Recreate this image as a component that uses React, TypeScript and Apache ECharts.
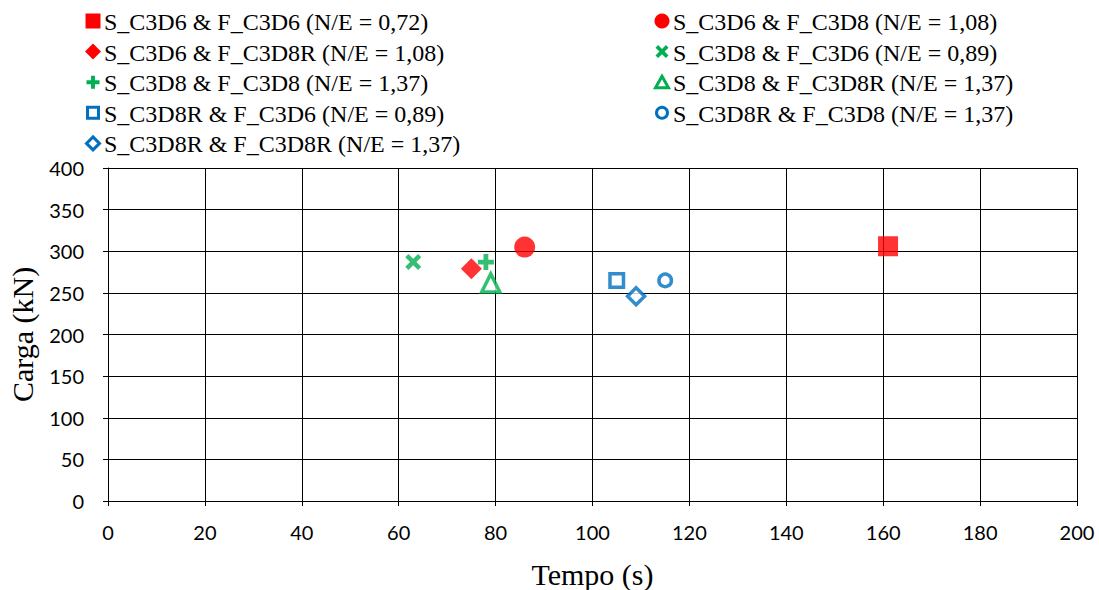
import React, { useEffect, useRef } from "react";
import * as echarts from "echarts";

const seriesNames = [
  "S_C3D6 & F_C3D6 (N/E = 0,72)",
  "S_C3D6 & F_C3D8 (N/E = 1,08)",
  "S_C3D6 & F_C3D8R (N/E = 1,08)",
  "S_C3D8 & F_C3D6 (N/E = 0,89)",
  "S_C3D8 & F_C3D8 (N/E = 1,37)",
  "S_C3D8 & F_C3D8R (N/E = 1,37)",
  "S_C3D8R & F_C3D6 (N/E = 0,89)",
  "S_C3D8R & F_C3D8 (N/E = 1,37)",
  "S_C3D8R & F_C3D8R (N/E = 1,37)",
];
const tempo = [161, 86, 75, 63, 78, 79, 105, 115, 109];
const carga = [306, 305, 279, 287, 287, 262, 265, 265, 246];

const xTicks = [0, 20, 40, 60, 80, 100, 120, 140, 160, 180, 200];
const yTicks = [0, 50, 100, 150, 200, 250, 300, 350, 400];

const RED = "#FF0000";
const GREEN = "#00B050";
const BLUE = "#0070C0";

// unit shapes (0..10 box) for X and plus
const X_PTS = [[2, 0], [5, 3], [8, 0], [10, 2], [7, 5], [10, 8], [8, 10], [5, 7], [2, 10], [0, 8], [3, 5], [0, 2]];
const PLUS_PTS = [[3.5, 0], [6.5, 0], [6.5, 3.5], [10, 3.5], [10, 6.5], [6.5, 6.5], [6.5, 10], [3.5, 10], [3.5, 6.5], [0, 6.5], [0, 3.5], [3.5, 3.5]];
const toPath = (pts: number[][]) =>
  "path://M" + pts.map((p) => p.join(",")).join(" L") + " Z";

type Mk = { kind: string; size: number; color: string; hollow: boolean };
const markers: Mk[] = [
  { kind: "rect", size: 20, color: RED, hollow: false },
  { kind: "circle", size: 21, color: RED, hollow: false },
  { kind: "diamond", size: 21, color: RED, hollow: false },
  { kind: "x", size: 16, color: GREEN, hollow: false },
  { kind: "plus", size: 16, color: GREEN, hollow: false },
  { kind: "triangle", size: 18, color: GREEN, hollow: true },
  { kind: "rect", size: 13.5, color: BLUE, hollow: true },
  { kind: "circle", size: 12.5, color: BLUE, hollow: true },
  { kind: "diamond", size: 17, color: BLUE, hollow: true },
];

const SERIF = "Liberation Serif";
const SANS = "Lato";

function legendIcon(m: Mk, cx: number, cy: number) {
  const fillStyle = { fill: m.color, stroke: null as any, lineWidth: 0 };
  const hollowStyle = { fill: "#ffffff", stroke: m.color, lineWidth: 3 };
  const st = m.hollow ? hollowStyle : fillStyle;
  const h = m.hollow ? 5.5 : 7.5;
  switch (m.kind) {
    case "rect":
      return { type: "rect", shape: { x: cx - h, y: cy - h, width: 2 * h, height: 2 * h }, style: st };
    case "circle":
      return { type: "circle", shape: { cx, cy, r: h }, style: st };
    case "diamond": {
      const d = m.hollow ? 6.5 : 8;
      return { type: "polygon", shape: { points: [[cx, cy - d], [cx + d, cy], [cx, cy + d], [cx - d, cy]] }, style: st };
    }
    case "triangle":
      return { type: "polygon", shape: { points: [[cx, cy - 6], [cx + 6.5, cy + 5.5], [cx - 6.5, cy + 5.5]] }, style: st };
    case "x":
    case "plus": {
      const pts = (m.kind === "x" ? X_PTS : PLUS_PTS).map(([px, py]) => [cx - 6.5 + px * 1.3, cy - 6.5 + py * 1.3]);
      return { type: "polygon", shape: { points: pts }, style: st };
    }
  }
  return null;
}

export default function App() {
  const ref = useRef<HTMLDivElement>(null);
  useEffect(() => {
    if (!ref.current) return;
    const chart = echarts.init(ref.current, undefined, { renderer: "svg" });
    const series = seriesNames.map((name, i) => {
      const m = markers[i];
      const symbol =
        m.kind === "x" ? toPath(X_PTS) : m.kind === "plus" ? toPath(PLUS_PTS) : m.kind;
      return {
        name,
        type: "scatter",
        data: [[tempo[i], carga[i]]],
        symbol,
        symbolSize: m.size,
        itemStyle: m.hollow
          ? { color: "#ffffff", borderColor: m.color, borderWidth: 3.5 }
          : { color: m.color, borderWidth: 0 },
        z: 5,
      };
    });

    // legend drawn as graphic: left column gets even indices, right column odd
    const legendEls: any[] = [];
    seriesNames.forEach((name, i) => {
      const col = i % 2;
      const row = Math.floor(i / 2);
      const cx = col === 0 ? 93 : 662;
      const cy = 21 + row * 30.6;
      const icon = legendIcon(markers[i], cx, cy);
      if (icon) legendEls.push(icon);
      legendEls.push({
        type: "text",
        x: cx + 11,
        y: cy + 1,
        style: {
          text: name,
          fontFamily: SERIF,
          fontSize: 24,
          fill: "#000",
          verticalAlign: "middle",
          align: "left",
        },
      });
    });

    chart.setOption({
      animation: false,
      backgroundColor: "#ffffff",
      graphic: legendEls,
      grid: {
        left: 108,
        right: 22,
        top: 168,
        bottom: 89,
        containLabel: false,
        outerBoundsMode: "none",
      },
      xAxis: {
        type: "value",
        min: xTicks[0],
        max: xTicks[xTicks.length - 1],
        interval: 20,
        name: "Tempo (s)",
        nameLocation: "middle",
        nameGap: 58,
        nameTextStyle: { fontFamily: SERIF, fontSize: 30, color: "#000" },
        axisLine: { lineStyle: { color: "#000", width: 1 } },
        axisTick: { show: true, inside: false, length: 5, lineStyle: { color: "#000" } },
        axisLabel: { fontFamily: SANS, fontSize: 20, color: "#000", margin: 21 },
        splitLine: { show: true, lineStyle: { color: "#000", width: 1 } },
      },
      yAxis: {
        type: "value",
        min: yTicks[0],
        max: yTicks[yTicks.length - 1],
        interval: 50,
        name: "Carga (kN)",
        nameLocation: "middle",
        nameGap: 71,
        nameTextStyle: { fontFamily: SERIF, fontSize: 30, color: "#000" },
        axisLine: { show: true, lineStyle: { color: "#000", width: 1 } },
        axisTick: { show: true, inside: false, length: 5, lineStyle: { color: "#000" } },
        axisLabel: { fontFamily: SANS, fontSize: 20, color: "#000", margin: 24 },
        splitLine: { show: true, lineStyle: { color: "#000", width: 1 } },
      },
      series,
    });
    return () => chart.dispose();
  }, []);
  return (
    <div
      ref={ref}
      style={{ position: "fixed", left: 0, top: 0, width: 1099, height: 590 }}
    />
  );
}
